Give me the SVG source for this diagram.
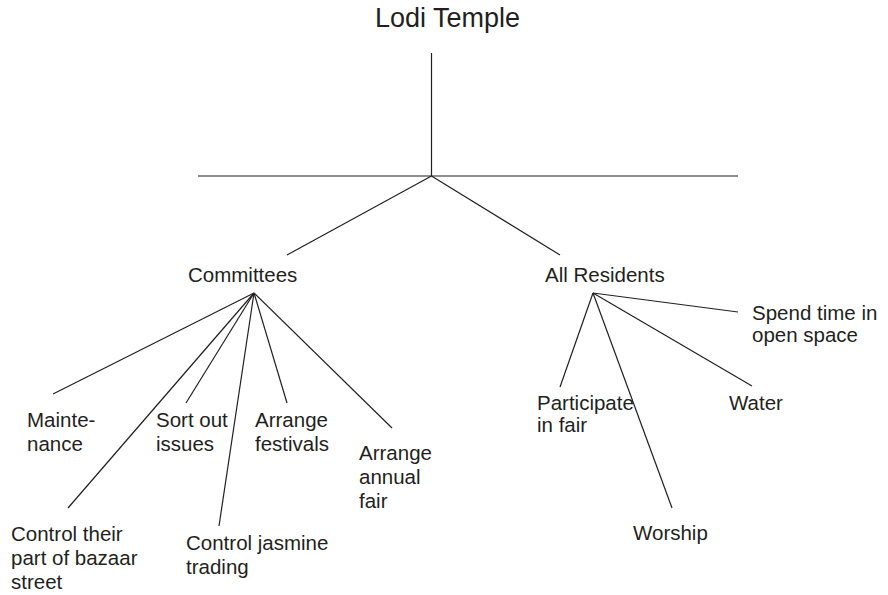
<svg xmlns="http://www.w3.org/2000/svg" width="888" height="595" viewBox="0 0 888 595">
<style>
text{font-family:"Liberation Sans",Arial,sans-serif;font-size:20.5px;fill:#231f20}
.title{font-size:27px}
#connectors line{stroke:#231f20;stroke-width:1.2;fill:none}
</style>
<rect width="888" height="595" fill="#fff"/>
<g id="connectors">
<line x1="431.5" y1="53" x2="431.5" y2="176"/>
<line x1="198" y1="176" x2="738" y2="176"/>
<line x1="431.5" y1="176" x2="287" y2="255"/>
<line x1="431.5" y1="176" x2="560" y2="255"/>
<line x1="254" y1="293" x2="53" y2="394"/>
<line x1="254" y1="293" x2="68" y2="508"/>
<line x1="254" y1="293" x2="186" y2="403"/>
<line x1="254" y1="293" x2="219" y2="526"/>
<line x1="254" y1="293" x2="287" y2="403"/>
<line x1="254" y1="293" x2="392" y2="428"/>
<line x1="593" y1="293" x2="738" y2="312"/>
<line x1="593" y1="293" x2="560" y2="387"/>
<line x1="593" y1="293" x2="672" y2="508"/>
<line x1="593" y1="293" x2="752" y2="386"/>
</g>
<g id="lodi-temple"><text class="title" x="375" y="27">Lodi Temple</text></g>
<g id="committees"><text x="188" y="282">Committees</text></g>
<g id="all-residents"><text x="545" y="282">All Residents</text></g>
<g id="maintenance"><text x="27" y="427">Mainte-</text><text x="27" y="450.5">nance</text></g>
<g id="sort-out-issues"><text x="156" y="427">Sort out</text><text x="156" y="450.5">issues</text></g>
<g id="arrange-festivals"><text x="255" y="427">Arrange</text><text x="255" y="450.5">festivals</text></g>
<g id="arrange-annual-fair"><text x="359" y="460">Arrange</text><text x="359" y="484">annual</text><text x="359" y="508">fair</text></g>
<g id="control-bazaar"><text x="11" y="541">Control their</text><text x="11" y="564.5">part of bazaar</text><text x="11" y="588.5">street</text></g>
<g id="control-jasmine"><text x="186" y="549.5">Control jasmine</text><text x="186" y="573.5">trading</text></g>
<g id="spend-time"><text x="752" y="319.5">Spend time in</text><text x="752" y="342">open space</text></g>
<g id="participate"><text x="537" y="409.5">Participate</text><text x="537" y="432">in fair</text></g>
<g id="water"><text x="729" y="409.5">Water</text></g>
<g id="worship"><text x="633" y="540">Worship</text></g>
</svg>
